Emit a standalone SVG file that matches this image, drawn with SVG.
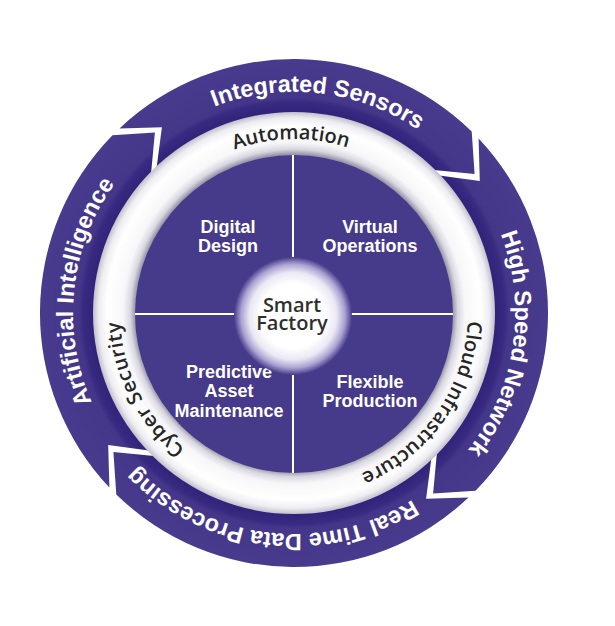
<svg xmlns="http://www.w3.org/2000/svg" width="615" height="626" viewBox="0 0 615 626">
<defs>
  <radialGradient id="ringGrad" gradientUnits="userSpaceOnUse" cx="294" cy="313" r="254">
    <stop offset="0.787" stop-color="#30227a"/>
    <stop offset="0.83" stop-color="#382a80"/>
    <stop offset="0.848" stop-color="#44378a"/>
    <stop offset="1" stop-color="#483b8d"/>
  </radialGradient>
  <radialGradient id="whiteGrad" gradientUnits="userSpaceOnUse" cx="294" cy="313" r="201">
    <stop offset="0.79" stop-color="#9896aa"/>
    <stop offset="0.815" stop-color="#d8d7e0"/>
    <stop offset="0.85" stop-color="#f7f7f9"/>
    <stop offset="0.93" stop-color="#ffffff"/>
    <stop offset="0.97" stop-color="#eeeef2"/>
    <stop offset="1" stop-color="#c2c0cc"/>
  </radialGradient>
  <radialGradient id="sphere" cx="0.5" cy="0.5" r="0.5">
    <stop offset="0" stop-color="#ffffff"/>
    <stop offset="0.55" stop-color="#ffffff"/>
    <stop offset="0.74" stop-color="#eae8f3"/>
    <stop offset="0.88" stop-color="#aaa2d2"/>
    <stop offset="1" stop-color="#473b8b"/>
  </radialGradient>
  <path id="pIS" d="M77.4,268.9 A221,221 0 0 1 514.9,318.8"/>
  <path id="pHS" d="M346.0,98.2 A221,221 0 0 1 280.1,533.6"/>
  <path id="pRT" d="M510.4,357.8 A221,221 0 0 1 73.1,306.4"/>
  <path id="pAI" d="M251.8,529.9 A221,221 0 0 1 297.9,92.0"/>
  <path id="pAU" d="M120.4,300.9 A174,174 0 0 1 467.0,294.8"/>
  <path id="pCI" d="M405.8,179.7 A174,174 0 0 1 207,463.7"/>
  <path id="pCS" d="M359.2,474.3 A174,174 0 0 1 201.8,165.4"/>
</defs>
<style>
  .seg { fill: url(#ringGrad); }
  .outer { font-family: "Liberation Sans", Arial, sans-serif; font-weight: bold; font-size: 23.5px; fill: #ffffff; text-anchor: middle; }
  .inner { font-family: "Open Sans", "DejaVu Sans", sans-serif; font-weight: 600; font-size: 20px; fill: #262626; text-anchor: middle; }
  .quad { font-family: "Liberation Sans", Arial, sans-serif; font-weight: bold; font-size: 18px; fill: #ffffff; text-anchor: middle; }
  .hub { font-family: "Open Sans", "DejaVu Sans", sans-serif; font-weight: 600; font-size: 20px; fill: #2e2e2e; text-anchor: middle; }
  .div { stroke: #ffffff; stroke-width: 2; fill: none; }
</style>
<rect width="615" height="626" fill="#ffffff"/>

<g id="ring-integrated-sensors">
  <path class="seg" d="M119.5,128.4 A254,254 0 0 1 471.7,131.5 L474.6,173.9 L433.9,170.1 A200,200 0 0 0 156.6,167.7 L161.9,127.2 Z"/>
  <text class="outer"><textPath href="#pIS" startOffset="50%">Integrated Sensors</textPath></text>
</g>
<g id="ring-high-speed-network">
  <path class="seg" d="M478.6,138.5 A254,254 0 0 1 475.5,490.7 L433.1,493.6 L436.9,452.9 A200,200 0 0 0 439.3,175.6 L479.8,180.9 Z"/>
  <text class="outer"><textPath href="#pHS" startOffset="50%">High Speed Network</textPath></text>
</g>
<g id="ring-real-time-data-processing">
  <path class="seg" d="M468.5,497.6 A254,254 0 0 1 116.3,494.5 L113.4,452.1 L154.1,455.9 A200,200 0 0 0 431.4,458.3 L426.1,498.8 Z"/>
  <text class="outer"><textPath href="#pRT" startOffset="50%">Real Time Data Processing</textPath></text>
</g>
<g id="ring-artificial-intelligence">
  <path class="seg" d="M109.4,487.5 A254,254 0 0 1 112.5,135.3 L154.9,132.4 L151.1,173.1 A200,200 0 0 0 148.7,450.4 L108.2,445.1 Z"/>
  <text class="outer"><textPath href="#pAI" startOffset="50%">Artificial Intelligence</textPath></text>
</g>

<g id="white-ring">
  <circle cx="294" cy="313" r="201" fill="url(#whiteGrad)"/>
  <text class="inner"><textPath href="#pAU" startOffset="50%">Automation</textPath></text>
  <text class="inner"><textPath href="#pCI" startOffset="50%">Cloud Infrastructure</textPath></text>
  <text class="inner"><textPath href="#pCS" startOffset="50%" letter-spacing="0.6">Cyber Security</textPath></text>
</g>

<g id="disc">
  <circle cx="294" cy="314" r="159" fill="#463a8b"/>
</g>

<g id="connectors">
  <line class="div" x1="293" y1="155" x2="293" y2="473"/>
  <line class="div" x1="135" y1="314" x2="453" y2="314"/>
</g>

<g id="digital-design">
  <text class="quad" x="228" y="233">Digital</text>
  <text class="quad" x="228" y="252">Design</text>
</g>
<g id="virtual-operations">
  <text class="quad" x="370" y="233">Virtual</text>
  <text class="quad" x="370" y="252">Operations</text>
</g>
<g id="predictive-asset-maintenance">
  <text class="quad" x="229" y="378">Predictive</text>
  <text class="quad" x="229" y="397">Asset</text>
  <text class="quad" x="229" y="417">Maintenance</text>
</g>
<g id="flexible-production">
  <text class="quad" x="370" y="388">Flexible</text>
  <text class="quad" x="370" y="407">Production</text>
</g>

<g id="smart-factory">
  <circle cx="293" cy="316" r="59" fill="url(#sphere)"/>
  <text class="hub" x="292" y="312">Smart</text>
  <text class="hub" x="292" y="330">Factory</text>
</g>
</svg>
